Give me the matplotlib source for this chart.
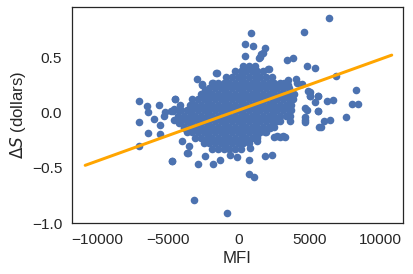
import numpy as np
import matplotlib
matplotlib.use("Agg")
import matplotlib.pyplot as plt
import seaborn as sns

# scattered points around the dense core (MFI, dS)
out_x = [6382, 4615, 848, 448, 1013, 1861, 1555, 1413, 448, 2073, -1625, 3417, 3840,
         4784, 5392, 6855, 8269, 5018, 5604, 5371, 6198, 6664, 7965, 8431, 4664, 5604,
         4664, 4664, 7541, 6431, 6007, 5795, 4900, 5018, 5604, 5677, 4784, 4664, 3604,
         3131, 2664, 2191, 1251, 777, 728, 1837, 2311, 707, 1081, 1484, 1720,
         -4711, -3625, -2876, -3159, -827, -1816, -1343, -636, -163, -2403,
         -7088, -6502, -6431, -5633, -7045, -6431, -5604, -7088, -4735, -4499, -6028,
         -5208, -5562, -5322, -4784, -4615, -4148, -4262, -3908, -4028, -3675, -3555,
         -4262, -4615, -1576, -2989, -2636, -1929, -4523, -4643, -2427, -2592, -1861,
         2097, 4052, 3440, 3487, 4076, 4429, 4995, 5560, 2921, 3228, 2450, 1861, 1249]
out_y = [0.856, 0.724, 0.718, 0.62, 0.598, 0.58, 0.53, 0.49, 0.508, 0.394, 0.358, 0.472, 0.493,
         0.418, 0.40, 0.328, 0.20, 0.187, 0.148, 0.09, 0.103, 0.11, 0.076, 0.076, 0.036, 0.009,
         -0.039, -0.09, -0.039, -0.069, -0.078, -0.129, 0.19, 0.144, 0.009, -0.13, 0.024, -0.066, -0.08,
         -0.216, -0.216, -0.14, -0.26, -0.32, -0.426, -0.39, -0.387, -0.561, -0.582, 0.505, 0.535,
         -0.438, -0.366, -0.465, -0.789, -0.913, -0.462, -0.426, -0.381, -0.40, -0.39,
         0.099, 0.054, 0.003, 0.069, -0.087, -0.186, -0.192, -0.30, -0.435, 0.123, -0.06,
         0.003, -0.117, -0.03, 0.009, -0.066, 0.069, -0.095, -0.14, -0.26, -0.366, -0.306,
         0.024, 0.03, 0.355, 0.30, 0.256, 0.265, 0.12, 0.009, 0.204, 0.246, 0.27,
         0.39, 0.30, 0.294, 0.25, 0.27, 0.26, 0.153, 0.144, -0.222, -0.219, -0.222, -0.18, -0.21]

# dense core, one row of MFI values per dS level
core_rows = [
    (0.42, [300, 700, 1100]),
    (0.37, [-300, 100, 500, 900, 1300, 1700]),
    (0.32, [-900, -500, -100, 300, 700, 1100, 1500, 1900, 2300]),
    (0.27, [-1500, -1100, -700, -300, 100, 500, 900, 1300, 1700, 2100, 2500, 2900, 3200]),
    (0.22, [-2100, -1700, -1300, -900, -500, -100, 300, 700, 1100, 1500, 1900, 2300, 2700, 3100, 3500]),
    (0.17, [-2700, -2300, -1900, -1500, -1100, -700, -300, 100, 500, 900, 1300, 1700, 2100, 2500,
            2900, 3300, 3700, 3900]),
    (0.12, [-3300, -2900, -2500, -2100, -1700, -1300, -900, -500, -100, 300, 700, 1100, 1500, 1900,
            2300, 2700, 3100, 3500, 3800]),
    (0.07, [-3500, -3100, -2700, -2300, -1900, -1500, -1100, -700, -300, 100, 500, 900, 1300, 1700,
            2100, 2500, 2900, 3300, 3700]),
    (0.02, [-4100, -3700, -3300, -2900, -2500, -2100, -1700, -1300, -900, -500, -100, 300, 700, 1100,
            1500, 1900, 2300, 2700, 3100, 3500, 3700]),
    (-0.03, [-4300, -3900, -3500, -3100, -2700, -2300, -1900, -1500, -1100, -700, -300, 100, 500,
             900, 1300, 1700, 2100, 2500, 2900, 3300, 3600]),
    (-0.08, [-4100, -3700, -3300, -2900, -2500, -2100, -1700, -1300, -900, -500, -100, 300, 700,
             1100, 1500, 1900, 2300, 2700, 2900]),
    (-0.13, [-3900, -3500, -3100, -2700, -2300, -1900, -1500, -1100, -700, -300, 100, 500, 900,
             1300, 1700, 2100, 2500]),
    (-0.18, [-3700, -3300, -2900, -2500, -2100, -1700, -1300, -900, -500, -100, 300, 700, 1100,
             1500, 1900]),
    (-0.23, [-3100, -2700, -2300, -1900, -1500, -1100, -700, -300, 100, 500, 900, 1300]),
    (-0.28, [-2500, -2100, -1700, -1300, -900, -500, -100, 300, 700]),
    (-0.33, [-1900, -1500, -1100, -700, -300, 100]),
]

# fitted line
fit_x = [-10880, 10790]
fit_slope = 4.6e-5
fit_intercept = 0.022

core_x = [x for y, xs in core_rows for x in xs]
core_y = [y for y, xs in core_rows for x in xs]

sns.set_theme(style="white", font_scale=1.4)
plt.rcParams["font.family"] = ["Liberation Sans", "DejaVu Sans"]

fig = plt.figure(figsize=(413 / 72, 274 / 72), dpi=72)
ax = fig.add_axes([0.174, 0.186, 0.802, 0.788])

ax.scatter(core_x + out_x, core_y + out_y, s=58, color="#4c72b0", linewidths=0)
line_y = [fit_intercept + fit_slope * x for x in fit_x]
ax.plot(fit_x, line_y, color="orange", lw=3)

ax.set_xlim(-11820, 11590)
ax.set_ylim(-1.0, 0.952)
ax.set_xticks([-10000, -5000, 0, 5000, 10000])
ax.set_yticks([-1.0, -0.5, 0.0, 0.5])
ax.set_xlabel("MFI")
ax.set_ylabel(r"$\Delta S$ (dollars)")
for s in ax.spines.values():
    s.set_color("#262626")

fig.savefig("out.png", dpi=72)
